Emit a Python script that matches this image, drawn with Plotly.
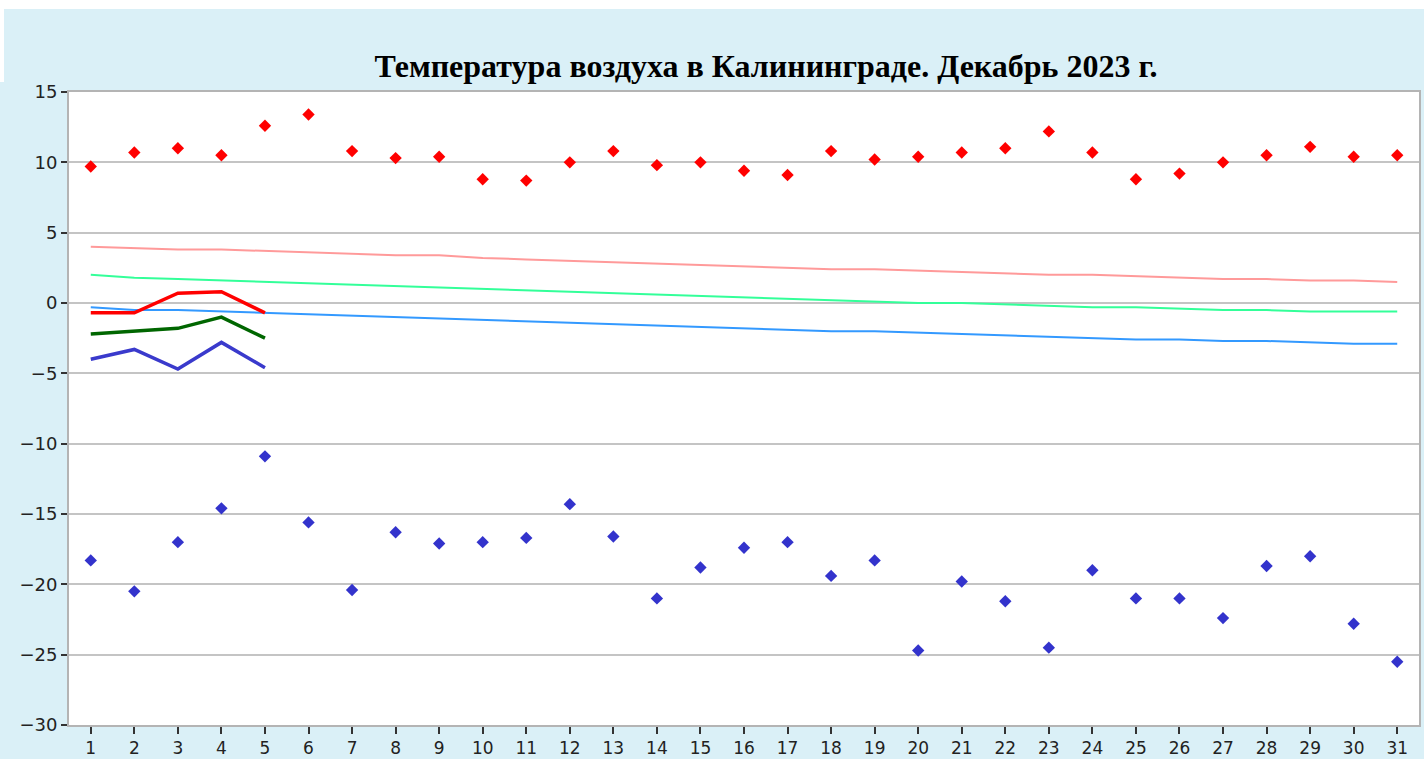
import plotly.graph_objects as go

days = list(range(1, 32))

max_temp = [9.7, 10.7, 11.0, 10.5, 12.6, 13.4, 10.8, 10.3, 10.4, 8.8,
            8.7, 10.0, 10.8, 9.8, 10.0, 9.4, 9.1, 10.8, 10.2, 10.4,
            10.7, 11.0, 12.2, 10.7, 8.8, 9.2, 10.0, 10.5, 11.1, 10.4, 10.5]

min_temp = [-18.3, -20.5, -17.0, -14.6, -10.9, -15.6, -20.4, -16.3, -17.1, -17.0,
            -16.7, -14.3, -16.6, -21.0, -18.8, -17.4, -17.0, -19.4, -18.3, -24.7,
            -19.8, -21.2, -24.5, -19.0, -21.0, -21.0, -22.4, -18.7, -18.0, -22.8, -25.5]

norm_max = [4.0, 3.9, 3.8, 3.8, 3.7, 3.6, 3.5, 3.4, 3.4, 3.2,
            3.1, 3.0, 2.9, 2.8, 2.7, 2.6, 2.5, 2.4, 2.4, 2.3,
            2.2, 2.1, 2.0, 2.0, 1.9, 1.8, 1.7, 1.7, 1.6, 1.6, 1.5]

norm_mean = [2.0, 1.8, 1.7, 1.6, 1.5, 1.4, 1.3, 1.2, 1.1, 1.0,
             0.9, 0.8, 0.7, 0.6, 0.5, 0.4, 0.3, 0.2, 0.1, 0.0,
             0.0, -0.1, -0.2, -0.3, -0.3, -0.4, -0.5, -0.5, -0.6, -0.6, -0.6]

norm_min = [-0.3, -0.5, -0.5, -0.6, -0.7, -0.8, -0.9, -1.0, -1.1, -1.2,
            -1.3, -1.4, -1.5, -1.6, -1.7, -1.8, -1.9, -2.0, -2.0, -2.1,
            -2.2, -2.3, -2.4, -2.5, -2.6, -2.6, -2.7, -2.7, -2.8, -2.9, -2.9]

cur_days = [1, 2, 3, 4, 5]
cur_max_avg = [-0.7, -0.7, 0.7, 0.8, -0.7]
cur_mean = [-2.2, -2.0, -1.8, -1.0, -2.5]
cur_min_avg = [-4.0, -3.3, -4.7, -2.8, -4.6]

y_ticks = [15, 10, 5, 0, -5, -10, -15, -20, -25, -30]

title_text = "Температура воздуха в Калининграде. Декабрь 2023 г."

fig = go.Figure()

fig.add_trace(go.Scatter(x=days, y=norm_max, mode="lines",
                         line=dict(color="#ff9a9a", width=2)))
fig.add_trace(go.Scatter(x=days, y=norm_mean, mode="lines",
                         line=dict(color="#33ff99", width=2)))
fig.add_trace(go.Scatter(x=days, y=norm_min, mode="lines",
                         line=dict(color="#3399ff", width=2)))

fig.add_trace(go.Scatter(x=cur_days, y=cur_max_avg, mode="lines",
                         line=dict(color="#ff0000", width=3.5)))
fig.add_trace(go.Scatter(x=cur_days, y=cur_mean, mode="lines",
                         line=dict(color="#006600", width=3.5)))
fig.add_trace(go.Scatter(x=cur_days, y=cur_min_avg, mode="lines",
                         line=dict(color="#3a3acc", width=3.5)))

fig.add_trace(go.Scatter(x=days, y=max_temp, mode="markers",
                         marker=dict(symbol="diamond", size=9.5, color="#ff0000")))
fig.add_trace(go.Scatter(x=days, y=min_temp, mode="markers",
                         marker=dict(symbol="diamond", size=9.5, color="#3333cc")))

L, R, T, B = 69, 5, 92, 34
W, H = 1424, 759
pw, ph = W - L - R, H - T - B

def px_x(px):
    return (px - L) / pw

def px_y(py):
    return (H - B - py) / ph

fig.update_layout(
    width=W, height=H,
    margin=dict(l=L, r=R, t=T, b=B),
    paper_bgcolor="#daf0f7",
    plot_bgcolor="#ffffff",
    showlegend=False,
    title=dict(text="<b>" + title_text + "</b>",
               font=dict(family="Liberation Serif", size=32, color="#000000"),
               x=766 / W, xanchor="center", xref="container",
               y=1 - 66 / H, yanchor="middle", yref="container"),
    shapes=[
        dict(type="rect", xref="paper", yref="paper",
             x0=px_x(0), x1=px_x(W), y0=px_y(9), y1=px_y(0),
             fillcolor="#ffffff", line=dict(width=0), layer="below"),
        dict(type="rect", xref="paper", yref="paper",
             x0=px_x(0), x1=px_x(4), y0=px_y(82), y1=px_y(9),
             fillcolor="#ffffff", line=dict(width=0), layer="below"),
    ],
    xaxis=dict(
        range=[0.5, 31.5], tickmode="array", tickvals=days,
        ticktext=[str(d) for d in days],
        showgrid=False, zeroline=False, automargin=False,
        showline=True, linecolor="#b4b4b4", linewidth=2, mirror=True,
        ticks="outside", ticklen=7, tickwidth=2, tickcolor="#333333",
        tickfont=dict(family="DejaVu Sans", size=17, color="#222222"),
    ),
    yaxis=dict(
        range=[-30, 15], tickmode="array", tickvals=y_ticks,
        showgrid=True, gridcolor="#c4c4c4", gridwidth=2,
        zeroline=False, automargin=False,
        showline=True, linecolor="#b4b4b4", linewidth=2, mirror=True,
        ticks="outside", ticklen=6, tickwidth=2, tickcolor="#333333",
        tickfont=dict(family="DejaVu Sans", size=18, color="#222222"),
    ),
)

fig.write_html("out.html", config={"displayModeBar": False},
               post_script="document.body.style.margin='0px';")
